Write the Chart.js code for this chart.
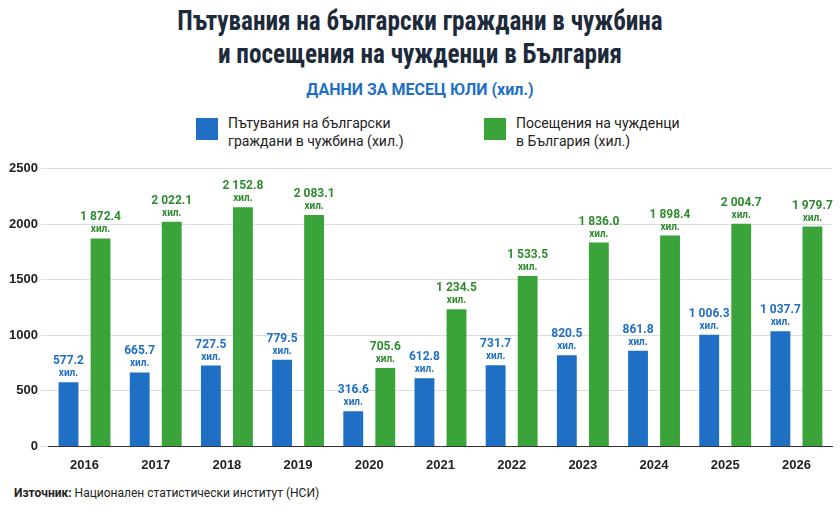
<!DOCTYPE html>
<html><head><meta charset="utf-8">
<script src="https://cdn.jsdelivr.net/npm/chart.js@4"></script>
<style>
body{margin:0;width:840px;height:514px;background:#fff;font-family:Roboto,"Noto Sans",sans-serif;overflow:hidden;position:relative}
#t{position:absolute;top:4px;left:0;width:840px;text-align:center;font:bold 28px "Roboto Condensed",Roboto,sans-serif;color:#1d2a3a;line-height:33px;transform:scaleX(0.9)}
#st{position:absolute;top:80px;left:0;width:840px;text-align:center;font:bold 16px Roboto;color:#1f6fc4}
.lg{position:absolute;top:114px;font:14px Roboto;color:#222;line-height:18px}
.sw{position:absolute;top:118px;width:22px;height:22px}
#src{position:absolute;top:486px;left:14px;font:12px Roboto;color:#222}
#wrap{position:absolute;left:0;top:158px;width:840px;height:318px}
</style></head><body>
<div id="t">Пътувания на български граждани в чужбина<br>и посещения на чужденци в България</div>
<div id="st">ДАННИ ЗА МЕСЕЦ ЮЛИ (хил.)</div>
<div class="sw" style="left:196px;background:#1f6fc4"></div>
<div class="lg" style="left:228px">Пътувания на български<br>граждани в чужбина (хил.)</div>
<div class="sw" style="left:484px;background:#3aa33a"></div>
<div class="lg" style="left:516px">Посещения на чужденци<br>в България (хил.)</div>
<div id="wrap"><canvas id="c"></canvas></div>
<div id="src"><b>Източник:</b> Национален статистически институт (НСИ)</div>
<script>
const years = ['2016','2017','2018','2019','2020','2021','2022','2023','2024','2025','2026'];
const trips = [577.2,665.7,727.5,779.5,316.6,612.8,731.7,820.5,861.8,1006.3,1037.7];
const visits = [1872.4,2022.1,2152.8,2083.1,705.6,1234.5,1533.5,1836.0,1898.4,2004.7,1979.7];
const fmt = v => { const s = v.toFixed(1); const [i,d] = s.split('.'); return i.replace(/\B(?=(\d{3})+(?!\d))/g,' ') + '.' + d; };
const labelsPlugin = {
  id: 'vals',
  afterDatasetsDraw(chart) {
    const ctx = chart.ctx;
    ctx.save();
    ctx.textAlign = 'center';
    chart.data.datasets.forEach((ds, di) => {
      const meta = chart.getDatasetMeta(di);
      ctx.fillStyle = di === 0 ? '#1f6fc4' : '#2e8b2e';
      meta.data.forEach((bar, i) => {
        ctx.font = 'bold 12px Roboto';
        ctx.fillText(fmt(ds.data[i]), bar.x, bar.y - 18);
        ctx.font = 'bold 10px Roboto';
        ctx.fillText('хил.', bar.x, bar.y - 6);
      });
    });
    ctx.restore();
  }
};
new Chart(document.getElementById('c'), {
  type: 'bar',
  data: {
    labels: years,
    datasets: [
      { data: trips, backgroundColor: '#1f6fc4', barPercentage: 0.62, categoryPercentage: 0.9 },
      { data: visits, backgroundColor: '#3aa33a', barPercentage: 0.62, categoryPercentage: 0.9 }
    ]
  },
  options: {
    responsive: true, maintainAspectRatio: false, animation: false,
    layout: { padding: { left: 6, right: 8, top: 6 } },
    plugins: { legend: { display: false }, tooltip: { enabled: false } },
    scales: {
      x: { grid: { display: false }, border: { color: '#333' }, ticks: { color: '#222', font: { weight: 'bold', size: 13 } } },
      y: { min: 0, max: 2500, ticks: { stepSize: 500, color: '#222', font: { weight: 'bold', size: 13 }, callback: v => String(v) },
           grid: { color: '#ddd' }, border: { display: false } }
    }
  },
  plugins: [labelsPlugin]
});
</script>
</body></html>
